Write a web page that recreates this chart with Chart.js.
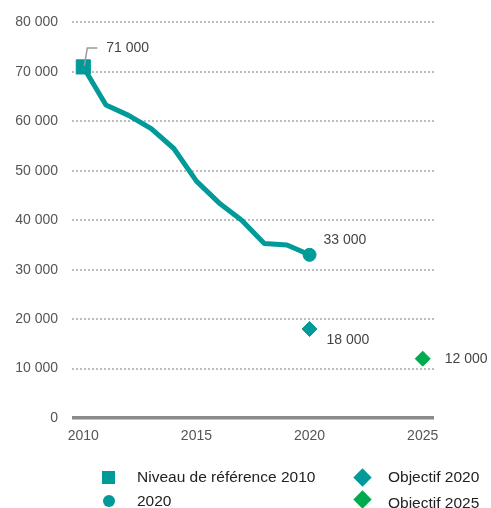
<!DOCTYPE html>
<html>
<head>
<meta charset="utf-8">
<script src="https://cdn.jsdelivr.net/npm/chart.js@4/dist/chart.umd.min.js"></script>
<style>
  html, body { margin: 0; padding: 0; background: #fff; overflow: hidden; }
  #wrap { position: relative; width: 491px; height: 508px; font-family: "Liberation Sans", Arial, sans-serif; }
  #c { position: absolute; left: 0; top: 0; }
  .lg { position: absolute; font-size: 15.5px; color: #222; line-height: 18px; white-space: nowrap; }
  .mk { position: absolute; }
</style>
</head>
<body>
<div id="wrap">
  <canvas id="c" width="491" height="508"></canvas>
  <div class="mk" style="left:102px;top:471px;width:13px;height:13px;background:#009a98;"></div>
  <div class="lg" style="left:137px;top:468px;">Niveau de référence 2010</div>
  <div class="mk" style="left:103px;top:495px;width:12px;height:12px;border-radius:50%;background:#009a98;"></div>
  <div class="lg" style="left:137px;top:492px;">2020</div>
  <div class="mk" style="left:356px;top:471px;width:13px;height:13px;background:#009a98;transform:rotate(45deg);"></div>
  <div class="lg" style="left:388px;top:468px;">Objectif 2020</div>
  <div class="mk" style="left:356px;top:493px;width:13px;height:13px;background:#00ab4e;transform:rotate(45deg);"></div>
  <div class="lg" style="left:388px;top:494px;">Objectif 2025</div>
</div>
<script>
// ---- data ----
const years = [2010, 2011, 2012, 2013, 2014, 2015, 2016, 2017, 2018, 2019, 2020];
const values = [71000, 63300, 61200, 58500, 54500, 47900, 43500, 40000, 35300, 35000, 33000];
const referenceYear = 2010;
const referenceValue = 71000;
const currentYear = 2020;
const currentValue = 33000;
const target2020Year = 2020;
const target2020Value = 18000;
const target2025Year = 2025;
const target2025Value = 12000;
const xTickValues = [2010, 2015, 2020, 2025];
const yTickValues = [0, 10000, 20000, 30000, 40000, 50000, 60000, 70000, 80000];

const TEAL = '#009a98';
const GREEN = '#00ab4e';
const FONT = '"Liberation Sans", Arial, sans-serif';

function fmt(v) {
  return String(Math.round(v)).replace(/\B(?=(\d{3})+(?!\d))/g, ' ');
}

const valueLabels = [
  { x: referenceYear, y: referenceValue, dx: 23, dy: -19, leader: true },
  { x: currentYear, y: currentValue, dx: 14, dy: -15 },
  { x: target2020Year, y: target2020Value, dx: 17, dy: 11 },
  { x: target2025Year, y: target2025Value, dx: 22, dy: 0 }
];

const labelPlugin = {
  id: 'valueLabels',
  afterDatasetsDraw(chart) {
    const ctx = chart.ctx;
    const xs = chart.scales.x, ys = chart.scales.y;
    ctx.save();
    ctx.font = '14px ' + FONT;
    ctx.fillStyle = '#444';
    ctx.textBaseline = 'middle';
    ctx.textAlign = 'left';
    valueLabels.forEach(l => {
      const px = xs.getPixelForValue(l.x);
      const py = ys.getPixelForValue(l.y);
      if (l.leader) {
        ctx.strokeStyle = '#9a9a9a';
        ctx.lineWidth = 1.5;
        ctx.beginPath();
        ctx.moveTo(px + 1, py - 1);
        ctx.lineTo(px + 4, py - 19);
        ctx.lineTo(px + 14, py - 19);
        ctx.stroke();
      }
      ctx.fillText(fmt(l.y), px + l.dx, py + l.dy);
    });
    ctx.restore();
  }
};

new Chart(document.getElementById('c'), {
  type: 'line',
  data: {
    datasets: [
      {
        label: 'Niveau de référence 2010',
        data: [{ x: referenceYear, y: referenceValue }],
        showLine: false,
        pointStyle: 'rect',
        pointRadius: 10,
        backgroundColor: TEAL,
        borderColor: TEAL,
        borderWidth: 1,
        order: 1
      },
      {
        label: '2020',
        data: [{ x: currentYear, y: currentValue }],
        showLine: false,
        pointStyle: 'circle',
        pointRadius: 6.5,
        backgroundColor: TEAL,
        borderColor: TEAL,
        borderWidth: 1,
        order: 1
      },
      {
        label: 'Objectif 2020',
        data: [{ x: target2020Year, y: target2020Value }],
        showLine: false,
        pointStyle: 'rectRot',
        pointRadius: 7.5,
        backgroundColor: TEAL,
        borderColor: TEAL,
        borderWidth: 1,
        order: 1
      },
      {
        label: 'Objectif 2025',
        data: [{ x: target2025Year, y: target2025Value }],
        showLine: false,
        pointStyle: 'rectRot',
        pointRadius: 7.5,
        backgroundColor: GREEN,
        borderColor: GREEN,
        borderWidth: 1,
        order: 1
      },
      {
        label: 'trend',
        data: years.map((y, i) => ({ x: y, y: values[i] })),
        borderColor: TEAL,
        borderWidth: 5,
        borderJoinStyle: 'round',
        borderCapStyle: 'round',
        pointRadius: 0,
        tension: 0,
        fill: false,
        order: 2
      }
    ]
  },
  options: {
    responsive: false,
    animation: false,
    devicePixelRatio: 1,
    layout: { padding: { left: 0, top: 19, right: 57, bottom: 60 } },
    plugins: { legend: { display: false }, tooltip: { enabled: false } },
    scales: {
      x: {
        type: 'linear',
        min: 2009.5,
        max: 2025.5,
        afterBuildTicks(scale) { scale.ticks = xTickValues.map(v => ({ value: v })); },
        afterFit(scale) { scale.height = 30; },
        grid: { display: false, drawTicks: false },
        border: { display: false },
        ticks: {
          color: '#555',
          font: { family: FONT, size: 14 },
          padding: 10,
          maxRotation: 0,
          callback: v => String(v)
        }
      },
      y: {
        min: 0,
        max: 80000,
        afterBuildTicks(scale) { scale.ticks = yTickValues.map(v => ({ value: v })); },
        afterFit(scale) { scale.width = 72; },
        grid: {
          drawTicks: false,
          color: c => (c.tick && c.tick.value === 0) ? '#8a8a8a' : '#bdbdbd',
          lineWidth: c => (c.tick && c.tick.value === 0) ? 3.5 : 2
        },
        border: {
          display: false,
          dash: c => (c.tick && c.tick.value === 0) ? [] : [2, 2]
        },
        ticks: {
          color: '#555',
          font: { family: FONT, size: 14 },
          padding: 14,
          callback: v => fmt(v)
        }
      }
    }
  },
  plugins: [labelPlugin]
});
</script>
</body>
</html>
